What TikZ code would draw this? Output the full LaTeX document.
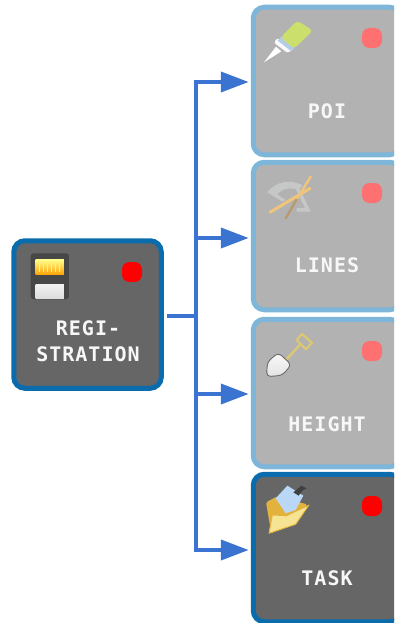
\documentclass[tikz,border=0pt]{standalone}
\usepackage{fontspec}
\newfontfamily\cardfont[LetterSpace=5]{DejaVu Sans Mono Bold}
\usetikzlibrary{arrows.meta}
\definecolor{darkfill}{HTML}{666666}
\definecolor{darkedge}{HTML}{0A6CAD}
\definecolor{lightfill}{HTML}{B2B2B2}
\definecolor{lightedge}{HTML}{7DB6D8}
\definecolor{linkblue}{HTML}{3A74D0}
\definecolor{softred}{HTML}{FF7070}
\definecolor{pengreen}{HTML}{CBE06C}
\definecolor{penblue}{HTML}{B4CCE6}
\definecolor{pencil}{HTML}{EFC57C}
\definecolor{pencildark}{HTML}{B89A70}
\definecolor{arcgray}{HTML}{C6C8C8}
\definecolor{spadegold}{HTML}{DCC872}
\definecolor{foldergold}{HTML}{E3B23C}
\definecolor{folderfront}{HTML}{F6E394}
\definecolor{paperblue}{HTML}{BAD8F5}
\tikzset{
  x=1pt,y=-1pt,
  cardbase/.style={rectangle,rounded corners=11pt,line width=5pt,minimum width=147.5pt,minimum height=147.5pt,outer sep=0pt,inner sep=0pt},
  carddark/.style={cardbase,draw=darkedge,fill=darkfill},
  cardlight/.style={cardbase,draw=lightedge,fill=lightfill},
  dotbase/.style={rectangle,rounded corners=7.5pt,minimum size=20pt,inner sep=0pt,outer sep=0pt},
  dotdark/.style={dotbase,fill=red},
  dotlight/.style={dotbase,fill=softred},
  cardtext/.style={anchor=base,inner sep=0pt,text=white!94!gray,font=\cardfont\fontsize{20}{24}\selectfont},
  link/.style={draw=linkblue,line width=4pt},
  arrowlink/.style={link,-{Triangle[length=28pt,width=20pt]},shorten >=4.5pt},
  zoomgrid/.style={x=0.3333pt,y=-0.3333pt},
}
\begin{document}
\begin{tikzpicture}
\clip (0,0) rectangle (394,623);
% boxes
\node[carddark]  (reg)    at (87.5,314.5) {};
\node[cardlight] (poi)    at (327,81) {};
\node[cardlight] (lines)  at (327,236) {};
\node[cardlight] (height) at (327,393) {};
\node[carddark]  (task)   at (327,548) {};
% dots
\node[dotdark]  (regdot)    at (132,272) {};
\node[dotlight] (poidot)    at (372,38) {};
\node[dotlight] (linesdot)  at (372,193) {};
\node[dotlight] (heightdot) at (372,351) {};
\node[dotdark]  (taskdot)   at (372,506) {};
% labels
\node[cardtext] (regtexta) at (88,335) {REGI-};
\node[cardtext] (regtextb) at (88,361) {STRATION};
\node[cardtext] (poitext)  at (327,118.5) {POI};
\node[cardtext] (linestext) at (327,272.5) {LINES};
\node[cardtext] (heighttext) at (327,431) {HEIGHT};
\node[cardtext] (tasktext) at (327,585) {TASK};
% connectors
\coordinate (trunk) at (196,316);
\draw[link] ([xshift=6pt,yshift=-1.5pt]reg.east) -- (trunk);
\draw[arrowlink] (trunk) |- ([yshift=-1pt]poi.west);
\draw[arrowlink] (trunk) |- ([yshift=-2pt]lines.west);
\draw[arrowlink] (trunk) |- ([yshift=-1pt]height.west);
\draw[arrowlink] (trunk) |- ([yshift=-2pt]task.west);
% icon: card
\begin{scope}[shift={(0,230)},zoomgrid]
\fill[black!72,rounded corners=3pt] (92,70) rectangle (207,208);
\fill[top color=yellow!45!white,bottom color=orange!75!yellow] (107,88) rectangle (192,135);
\foreach \gx in {118,130,142,154,166,178} \draw[white!80!orange,line width=0.7pt] (\gx,92) -- (\gx,125);
\fill[top color=white!88!gray,bottom color=white!72!gray] (107,165) rectangle (192,207);
\end{scope}
% icon: glue pen
\begin{scope}[shift={(244,0)},zoomgrid]
\fill[white] (60,187) -- (96,140) -- (112,154) -- cycle;
\fill[white!96!gray,rounded corners=2pt] (90,128) -- (100,114) -- (144,148) -- (132,160) -- cycle;
\fill[penblue] (101,122) -- (112,110) -- (152,143) -- (142,154) -- cycle;
\fill[pengreen,rounded corners=3.5pt] (110,112) -- (160,62) -- (207,92) -- (150,146) -- cycle;
\end{scope}
% icon: protractor and pencils
\begin{scope}[shift={(244,155)},zoomgrid]
\draw[arcgray,line width=3.5pt] (160,100) -- (192,165) -- (158,165);
\fill[arcgray] (70,112) .. controls (100,75) and (140,75) .. (175,90) -- (165,105) .. controls (140,96) and (115,100) .. (100,118) -- (125,135) -- (115,140) -- cycle;
\draw[pencildark,line width=2.4pt,line cap=round] (125,190) -- (160,130);
\draw[pencil,line width=2.4pt,line cap=round] (160,130) -- (200,65);
\draw[pencil,line width=3pt,line cap=round] (78,172) -- (198,100);
\end{scope}
% icon: shovel
\begin{scope}[shift={(244,312)},zoomgrid]
\draw[spadegold,line width=2.4pt] (125,145) -- (168,98);
\draw[spadegold,line width=2.2pt,line join=round] (158,84) -- (174,66) -- (204,92) -- (186,112) -- cycle;
\fill[top color=white!95!gray,bottom color=white!78!gray,draw=gray!85!black,line width=0.9pt,rounded corners=4pt] (68,194) -- (70,150) -- (103,122) -- (142,158) -- (115,190) -- cycle;
\end{scope}
% icon: folder
\begin{scope}[shift={(244,465)},zoomgrid]
\fill[foldergold,rounded corners=1.5pt] (66,112) -- (98,95) -- (190,118) -- (140,170) -- (82,205) -- cycle;
\fill[paperblue] (95,100) -- (130,62) -- (178,92) -- (155,135) -- (125,145) -- cycle;
\fill[gray!50!black] (148,82) -- (164,92) -- (176,76) -- (188,70) -- (172,62) -- cycle;
\fill[folderfront,draw=foldergold,line width=0.9pt,line join=round] (85,150) -- (128,152) -- (195,120) -- (155,178) -- (75,205) -- cycle;
\end{scope}
\end{tikzpicture}
\end{document}
